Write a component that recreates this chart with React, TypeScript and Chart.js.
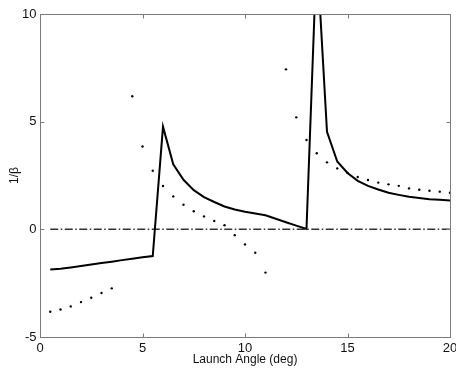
import React, { useEffect, useRef } from "react";
import { Chart, registerables } from "chart.js";

Chart.register(...registerables);

const lineX = [0.5, 1, 1.5, 2, 2.5, 3, 3.5, 4, 4.5, 5, 5.5, 6, 6.5, 7, 7.5, 8, 8.5, 9, 9.5, 10, 10.5, 11, 11.5, 12, 12.5, 13, 13.5, 14, 14.5, 15, 15.5, 16, 16.5, 17, 17.5, 18, 18.5, 19, 19.5, 20];
const lineY = [-1.86, -1.83, -1.77, -1.70, -1.63, -1.56, -1.50, -1.43, -1.37, -1.30, -1.24, 4.77, 3.02, 2.30, 1.82, 1.50, 1.27, 1.06, 0.92, 0.82, 0.74, 0.65, 0.49, 0.33, 0.17, 0.02, 12.9, 4.53, 3.15, 2.62, 2.25, 2.02, 1.85, 1.70, 1.60, 1.51, 1.45, 1.40, 1.37, 1.34];

const dotX = [0.5, 1, 1.5, 2, 2.5, 3, 3.5, 4.5, 5, 5.5, 6, 6.5, 7, 7.5, 8, 8.5, 9, 9.5, 10, 10.5, 11, 12, 12.5, 13, 13.5, 14, 14.5, 15, 15.5, 16, 16.5, 17, 17.5, 18, 18.5, 19, 19.5, 20];
const dotY = [-3.83, -3.72, -3.58, -3.38, -3.18, -2.96, -2.74, 6.18, 3.85, 2.72, 2.01, 1.53, 1.14, 0.84, 0.60, 0.39, 0.19, -0.27, -0.70, -1.09, -2.01, 7.43, 5.20, 4.15, 3.53, 3.11, 2.83, 2.62, 2.43, 2.29, 2.17, 2.09, 2.02, 1.90, 1.84, 1.79, 1.75, 1.70];

const zeroX = [0.5, 20];
const zeroY = [0, 0];

const xTicks = [0, 5, 10, 15, 20];
const yTicks = [-5, 0, 5, 10];

const FONT = "'Liberation Sans', Arial, Helvetica, sans-serif";

const boxPlugin = {
  id: "matlabBox",
  afterDatasetsDraw(chart: any) {
    const { ctx, chartArea, scales } = chart;
    const { left, right, top, bottom } = chartArea;
    ctx.save();
    ctx.strokeStyle = "#7a7a7a";
    ctx.lineWidth = 1;
    ctx.strokeRect(left + 0.5, top + 0.5, right - left, bottom - top);
    const tl = 4;
    ctx.beginPath();
    xTicks.forEach((v) => {
      const px = Math.round(scales.x.getPixelForValue(v)) + 0.5;
      ctx.moveTo(px, bottom + 0.5);
      ctx.lineTo(px, bottom + 0.5 - tl);
      ctx.moveTo(px, top + 0.5);
      ctx.lineTo(px, top + 0.5 + tl);
    });
    yTicks.forEach((v) => {
      const py = Math.round(scales.y.getPixelForValue(v)) + 0.5;
      ctx.moveTo(left + 0.5, py);
      ctx.lineTo(left + 0.5 + tl, py);
      ctx.moveTo(right + 0.5, py);
      ctx.lineTo(right + 0.5 - tl, py);
    });
    ctx.stroke();
    ctx.restore();
  },
};

export default function App() {
  const ref = useRef<HTMLCanvasElement | null>(null);

  useEffect(() => {
    document.body.style.margin = "0";
    const canvas = ref.current;
    if (!canvas) return;
    const chart = new Chart(canvas, {
      type: "scatter",
      data: {
        datasets: [
          {
            label: "line",
            data: lineX.map((x, i) => ({ x, y: lineY[i] })),
            showLine: true,
            borderColor: "#000",
            borderWidth: 2,
            pointRadius: 0,
            fill: false,
            clip: 0,
            order: 1,
          },
          {
            label: "dots",
            data: dotX.map((x, i) => ({ x, y: dotY[i] })),
            showLine: false,
            pointRadius: 1.2,
            pointBackgroundColor: "#000",
            pointBorderWidth: 0,
            borderColor: "#000",
            clip: 0,
            order: 2,
          },
          {
            label: "zero",
            data: zeroX.map((x, i) => ({ x, y: zeroY[i] })),
            showLine: true,
            borderColor: "#333",
            borderWidth: 1.5,
            borderDash: [8, 2.5, 1.5, 2.5],
            pointRadius: 0,
            clip: 0,
            order: 3,
          },
        ],
      },
      options: {
        animation: false,
        responsive: false,
        events: [],
        layout: { padding: { top: 14, right: 6, left: 0, bottom: 0 } },
        plugins: {
          legend: { display: false },
          tooltip: { enabled: false },
        },
        scales: {
          x: {
            type: "linear",
            min: 0,
            max: 20,
            grid: { display: false, drawTicks: false },
            border: { display: false },
            ticks: {
              stepSize: 5,
              autoSkip: false,
              maxRotation: 0,
              padding: 4,
              color: "#111",
              font: { family: FONT, size: 13 },
            },
            title: {
              display: true,
              text: "Launch Angle (deg)",
              color: "#111",
              font: { family: FONT, size: 12 },
              padding: { top: 0, bottom: 5 },
            },
            afterFit(scale: any) {
              scale.height = 35;
              scale.paddingLeft = 0;
              scale.paddingRight = 0;
            },
          },
          y: {
            type: "linear",
            min: -5,
            max: 10,
            grid: { display: false, drawTicks: false },
            border: { display: false },
            ticks: {
              stepSize: 5,
              autoSkip: false,
              padding: 3.5,
              color: "#111",
              font: { family: FONT, size: 13 },
            },
            title: {
              display: true,
              text: "1/β",
              color: "#111",
              font: { family: FONT, size: 12 },
              padding: { top: 7, bottom: 0 },
            },
            afterFit(scale: any) {
              scale.width = 40;
              scale.paddingTop = 0;
              scale.paddingBottom = 0;
            },
          },
        },
      },
      plugins: [boxPlugin],
    });
    return () => chart.destroy();
  }, []);

  return (
    <div style={{ position: "absolute", left: 0, top: 0, width: 456, height: 372, background: "#fff" }}>
      <canvas ref={ref} width={456} height={372} style={{ display: "block" }} />
    </div>
  );
}
